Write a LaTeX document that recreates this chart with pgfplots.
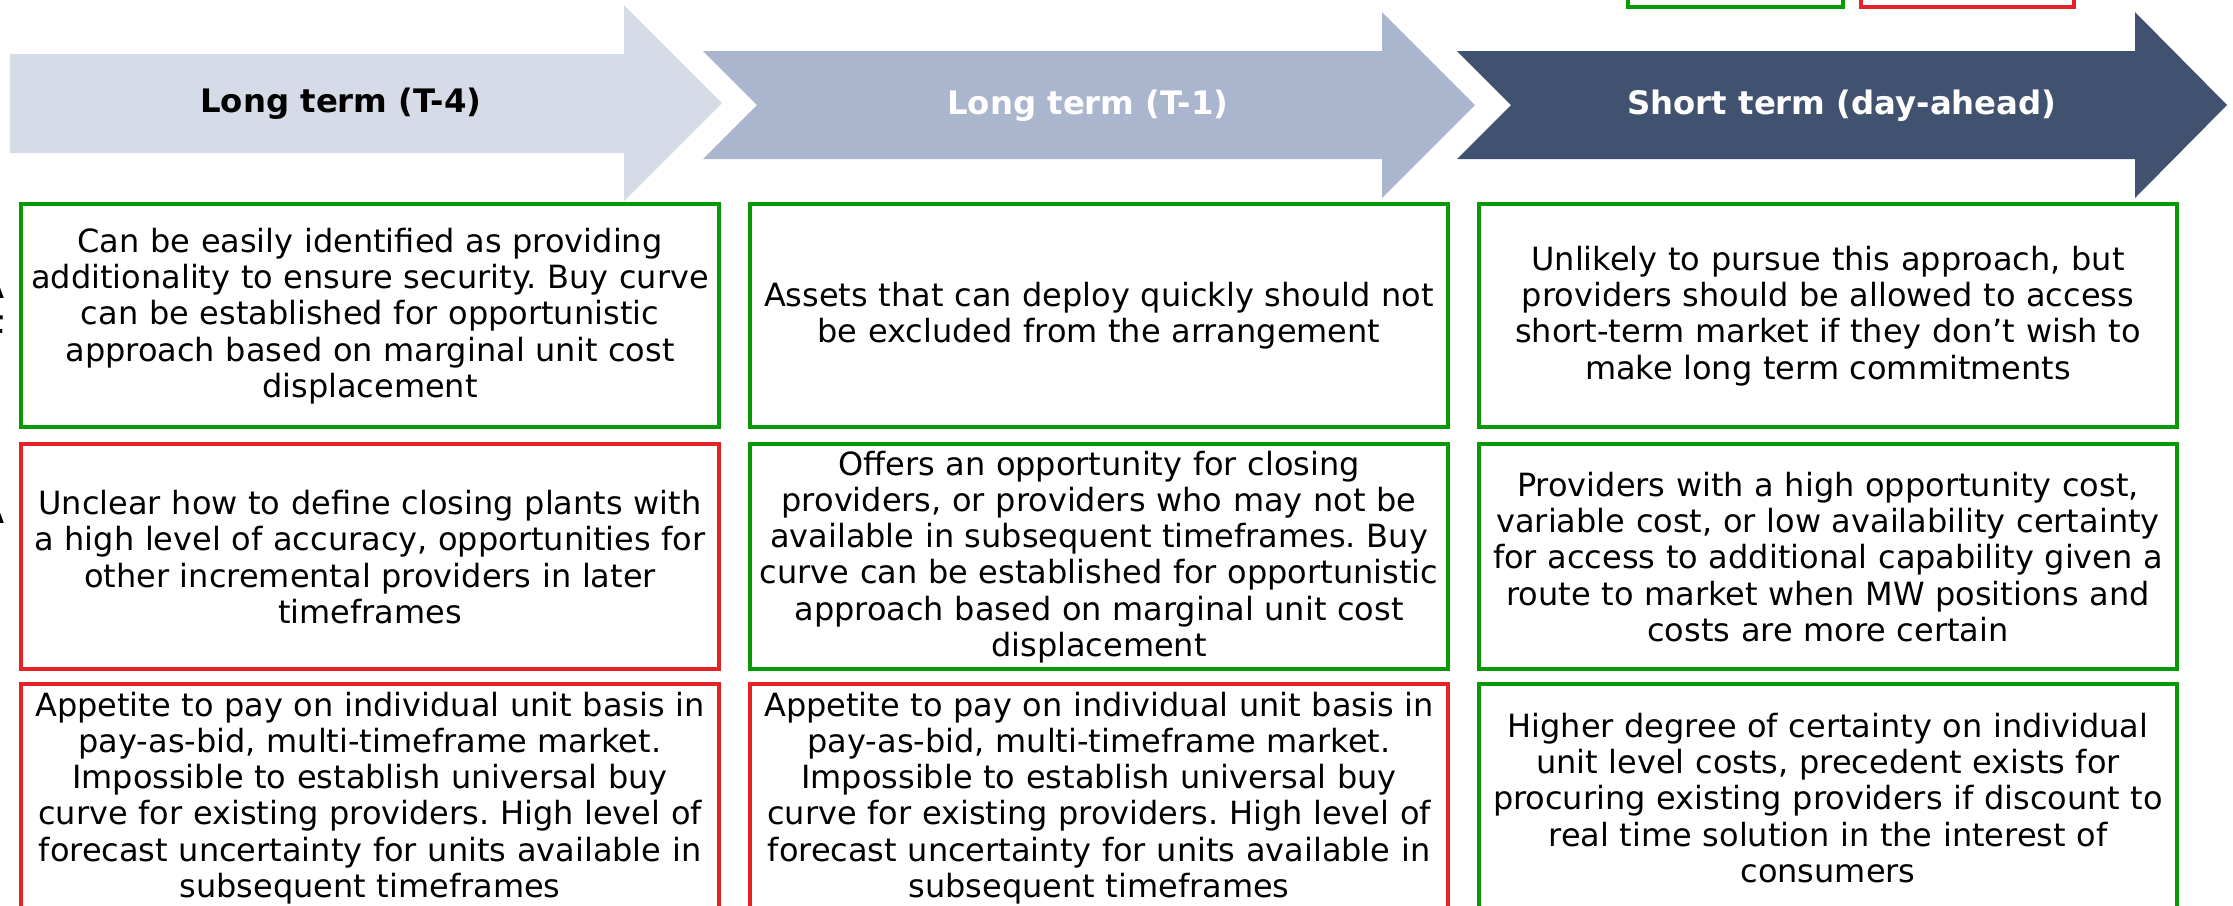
\documentclass[border=0pt]{standalone}
\usepackage{fontspec}
\setmainfont{DejaVu Sans}
\usepackage{pgfplots}
\pgfplotsset{compat=1.18}
\definecolor{aone}{HTML}{D6DCE7}
\definecolor{atwo}{HTML}{AAB6CD}
\definecolor{athree}{HTML}{415271}
\definecolor{gr}{HTML}{079A07}
\definecolor{rd}{HTML}{E52228}
\frenchspacing
\begin{document}
\begin{tikzpicture}
\useasboundingbox (0,0) rectangle (22.33,9.05);
\clip (0,0) rectangle (22.33,9.05);
\begin{axis}[at={(0,0)},anchor=south west,scale only axis,
  width=22.33cm,height=9.05cm,xmin=0,xmax=2233,ymin=0,ymax=905,
  y dir=reverse,axis lines=none,ticks=none,clip=false]
% arrows
\addplot[fill=aone,draw=none] coordinates {(10,54)(624,54)(624,5)(722,103)(624,201)(624,153)(10,153)} -- cycle;
\addplot[fill=atwo,draw=none] coordinates {(703,51)(1382,51)(1382,12)(1475,105)(1382,198)(1382,159)(703,159)(757,105)} -- cycle;
\addplot[fill=athree,draw=none] coordinates {(1457,51)(2135,51)(2135,12)(2227,105)(2135,198)(2135,159)(1457,159)(1511,105)} -- cycle;
% legend boxes
\addplot[draw=gr,line width=1.1pt,fill=white] coordinates {(1628,-30)(1843,-30)(1843,7)(1628,7)} -- cycle;
\addplot[draw=rd,line width=1.1pt,fill=white] coordinates {(1861,-30)(2074,-30)(2074,7)(1861,7)} -- cycle;
% row 1
\addplot[draw=gr,line width=1.1pt,fill=white] coordinates {(21,204)(719,204)(719,427)(21,427)} -- cycle;
\addplot[draw=gr,line width=1.1pt,fill=white] coordinates {(750,204)(1448,204)(1448,427)(750,427)} -- cycle;
\addplot[draw=gr,line width=1.1pt,fill=white] coordinates {(1479,204)(2177,204)(2177,427)(1479,427)} -- cycle;
% row 2
\addplot[draw=rd,line width=1.1pt,fill=white] coordinates {(21,444)(719,444)(719,669)(21,669)} -- cycle;
\addplot[draw=gr,line width=1.1pt,fill=white] coordinates {(750,444)(1448,444)(1448,669)(750,669)} -- cycle;
\addplot[draw=gr,line width=1.1pt,fill=white] coordinates {(1479,444)(2177,444)(2177,669)(1479,669)} -- cycle;
% row 3
\addplot[draw=rd,line width=1.1pt,fill=white] coordinates {(21,684)(719,684)(719,910)(21,910)} -- cycle;
\addplot[draw=rd,line width=1.1pt,fill=white] coordinates {(750,684)(1448,684)(1448,910)(750,910)} -- cycle;
\addplot[draw=gr,line width=1.1pt,fill=white] coordinates {(1479,684)(2177,684)(2177,910)(1479,910)} -- cycle;
% headers
\node[font=\fontsize{9.2}{11}\selectfont\bfseries,text=black] at (axis cs:341,104) {Long term (T-4)};
\node[font=\fontsize{9.2}{11}\selectfont\bfseries,text=white] at (axis cs:1088,106) {Long term (T-1)};
\node[font=\fontsize{9.2}{11}\selectfont\bfseries,text=white] at (axis cs:1842,106) {Short term (day-ahead)};
% left fragments (cut at the edge, as in the reference)
\node[font=\fontsize{9.2}{11}\selectfont\bfseries,anchor=east,inner sep=0pt] at (axis cs:5,287) {A};
\node[font=\fontsize{9.2}{11}\selectfont\bfseries,anchor=east,inner sep=0pt] at (axis cs:5,322) {t};
\node[font=\fontsize{9.2}{11}\selectfont\bfseries,anchor=east,inner sep=0pt] at (axis cs:5,512) {A};
% texts
\tikzset{bt/.style={font=\fontsize{9.1}{10.3}\selectfont,align=center,text width=7.3cm,inner sep=0pt}}
\node[bt] at (axis cs:370,316) {Can be easily identified as providing\\additionality to ensure security. Buy curve\\can be established for opportunistic\\approach based on marginal unit cost\\displacement};
\node[bt] at (axis cs:1099,316) {Assets that can deploy quickly should not\\be excluded from the arrangement};
\node[bt] at (axis cs:1828,316) {Unlikely to pursue this approach, but\\providers should be allowed to access\\short-term market if they don’t wish to\\make long term commitments};
\node[bt] at (axis cs:370,557) {Unclear how to define closing plants with\\a high level of accuracy, opportunities for\\other incremental providers in later\\timeframes};
\node[bt] at (axis cs:1099,557) {Offers an opportunity for closing\\providers, or providers who may not be\\available in subsequent timeframes. Buy\\curve can be established for opportunistic\\approach based on marginal unit cost\\displacement};
\node[bt] at (axis cs:1828,557) {Providers with a high opportunity cost,\\variable cost, or low availability certainty\\for access to additional capability given a\\route to market when MW positions and\\costs are more certain};
\node[bt] at (axis cs:370,798) {Appetite to pay on individual unit basis in\\pay-as-bid, multi-timeframe market.\\Impossible to establish universal buy\\curve for existing providers. High level of\\forecast uncertainty for units available in\\subsequent timeframes};
\node[bt] at (axis cs:1099,798) {Appetite to pay on individual unit basis in\\pay-as-bid, multi-timeframe market.\\Impossible to establish universal buy\\curve for existing providers. High level of\\forecast uncertainty for units available in\\subsequent timeframes};
\node[bt] at (axis cs:1828,798) {Higher degree of certainty on individual\\unit level costs, precedent exists for\\procuring existing providers if discount to\\real time solution in the interest of\\consumers};
\end{axis}
\end{tikzpicture}
\end{document}
